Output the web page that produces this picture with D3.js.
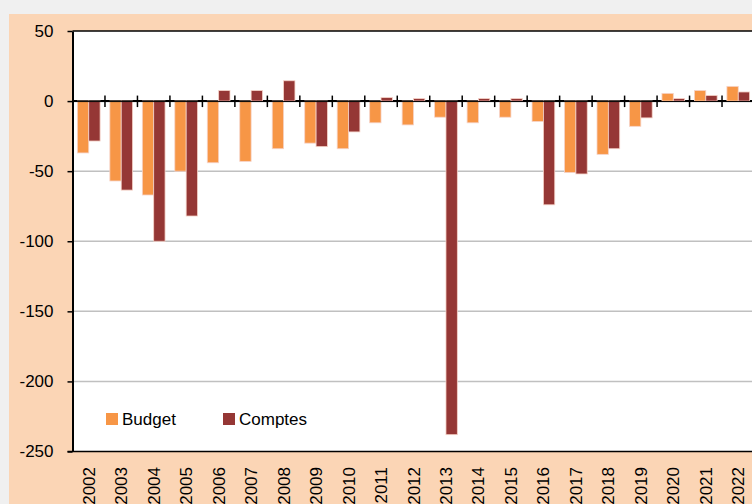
<!DOCTYPE html>
<html>
<head>
<meta charset="utf-8">
<script src="https://cdn.jsdelivr.net/npm/d3@7"></script>
<style>
  body { margin: 0; background: #f0f0f0; }
  text { font-family: "Liberation Sans", Arial, sans-serif; }
</style>
</head>
<body>
<script>
// data
var years = ["2002", "2003", "2004", "2005", "2006", "2007", "2008", "2009", "2010", "2011", "2012",
             "2013", "2014", "2015", "2016", "2017", "2018", "2019", "2020", "2021", "2022"];
var budget = [-37, -57, -67, -50, -44, -43, -34, -30, -34, -15.5, -17,
              -11.5, -15.5, -11.5, -14.5, -51, -38, -18, 5.5, 7.5, 10.5];
var comptes = [-28.5, -63.5, -100, -82, 7.5, 7.5, 14.5, -32.5, -22, 2.5, 1.8,
               -238, 1.8, 1.8, -74, -52, -34, -12, 1.8, 4, 6.5];
var yTicks = [50, 0, -50, -100, -150, -200, -250];
var seriesNames = ["Budget", "Comptes"];
var seriesColors = ["#f79646", "#953735"];

// dimensions
var width = 752;
var height = 504;
var plotLeft = 72.5, plotRight = 754.5, plotTop = 31, plotBottom = 451.5;

var svg = d3.select("body")
  .append("svg")
  .attr("width", width)
  .attr("height", height)
  .style("display", "block");

// peach background panel
svg.append("rect")
  .attr("x", 9).attr("y", 14)
  .attr("width", width).attr("height", height)
  .attr("fill", "#fbd5b5");

// scales
var x = d3.scaleBand().domain(years).range([plotLeft, plotRight]).padding(0);
var xSub = d3.scaleBand().domain(seriesNames).range([0, x.bandwidth()])
  .paddingInner(0).paddingOuter(0.43);
var y = d3.scaleLinear().domain([-250, 50]).range([plotBottom, plotTop]);

// plot area
svg.append("rect")
  .attr("x", plotLeft).attr("y", plotTop)
  .attr("width", plotRight - plotLeft + 10).attr("height", plotBottom - plotTop)
  .attr("fill", "#ffffff");

// gridlines
svg.selectAll(".grid")
  .data([-50, -100, -150, -200])
  .enter().append("line")
  .attr("x1", plotLeft).attr("x2", width)
  .attr("y1", function (d) { return y(d); })
  .attr("y2", function (d) { return y(d); })
  .attr("stroke", "#c0c0c0")
  .attr("stroke-width", 1.5);

// top border and bottom line
svg.append("line")
  .attr("x1", plotLeft).attr("x2", width).attr("y1", plotTop).attr("y2", plotTop)
  .attr("stroke", "#000").attr("stroke-width", 1.5);
svg.append("line")
  .attr("x1", plotLeft - 5).attr("x2", width).attr("y1", plotBottom).attr("y2", plotBottom)
  .attr("stroke", "#000").attr("stroke-width", 1.5);

// zero line with category ticks
svg.append("line")
  .attr("x1", plotLeft).attr("x2", width).attr("y1", y(0)).attr("y2", y(0))
  .attr("stroke", "#000").attr("stroke-width", 2);
svg.selectAll(".xtick")
  .data(years.slice(1))
  .enter().append("line")
  .attr("x1", function (d) { return x(d); })
  .attr("x2", function (d) { return x(d); })
  .attr("y1", y(0) - 5.5).attr("y2", y(0) + 6)
  .attr("stroke", "#000").attr("stroke-width", 1.5);

// bars (drawn over the zero line, like Excel)
var groups = svg.selectAll(".year")
  .data(years)
  .enter().append("g")
  .attr("transform", function (d) { return "translate(" + x(d) + ",0)"; });

groups.selectAll("rect")
  .data(function (d, i) {
    return [{ s: "Budget", v: budget[i], c: 0 }, { s: "Comptes", v: comptes[i], c: 1 }];
  })
  .enter().append("rect")
  .attr("x", function (d) { return xSub(d.s); })
  .attr("width", xSub.bandwidth())
  .attr("y", function (d) { return y(Math.max(0, d.v)); })
  .attr("height", function (d) { return Math.abs(y(d.v) - y(0)); })
  .attr("fill", function (d) { return seriesColors[d.c]; })
  .attr("stroke", "#f6d3c8")
  .attr("stroke-width", 0.8);

// redraw zero line segment under the bars edge only where no bar: keep axis visible
svg.append("line")
  .attr("x1", plotLeft).attr("x2", width).attr("y1", y(0) + 0.5).attr("y2", y(0) + 0.5)
  .attr("stroke", "#000").attr("stroke-width", 1);

// y axis
var yAxis = svg.append("g")
  .attr("transform", "translate(" + plotLeft + ",0)")
  .call(d3.axisLeft(y).tickValues(yTicks).tickSize(5).tickSizeOuter(0).tickPadding(14)
    .tickFormat(function (d) { return String(d); }));
yAxis.select(".domain").attr("stroke", "#000").attr("stroke-width", 2);
yAxis.selectAll(".tick line").attr("stroke", "#000").attr("stroke-width", 1.5);
yAxis.selectAll(".tick text")
  .attr("font-family", "Liberation Sans, Arial, sans-serif")
  .attr("font-size", 17)
  .attr("fill", "#000");

// x labels, rotated
svg.selectAll(".xlabel")
  .data(years)
  .enter().append("text")
  .attr("transform", function (d) {
    return "translate(" + (x(d) + x.bandwidth() / 2 + 6) + "," + 467 + ") rotate(-90)";
  })
  .attr("text-anchor", "end")
  .attr("font-size", 17)
  .attr("fill", "#000")
  .text(function (d) { return d; });

// legend
var legend = svg.append("g");
var legendX = [106, 223];
seriesNames.forEach(function (name, i) {
  legend.append("rect")
    .attr("x", legendX[i]).attr("y", 413)
    .attr("width", 12).attr("height", 12)
    .attr("fill", seriesColors[i]);
  legend.append("text")
    .attr("x", legendX[i] + 16).attr("y", 425)
    .attr("font-size", 17)
    .attr("fill", "#000")
    .text(name);
});
</script>
</body>
</html>
